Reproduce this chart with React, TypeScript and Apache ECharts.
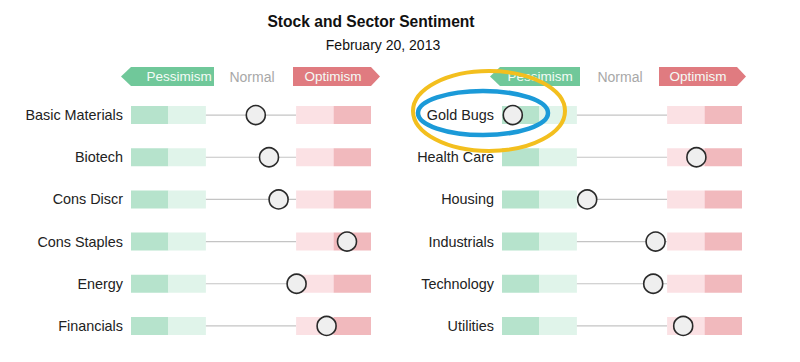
import React, { useEffect, useRef } from "react";
import * as echarts from "echarts";

const leftRows = ["Basic Materials", "Biotech", "Cons Discr", "Cons Staples", "Energy", "Financials"];
const leftValues = [52, 57.5, 61.5, 90, 69, 81.5];
const rightRows = ["Gold Bugs", "Health Care", "Housing", "Industrials", "Technology", "Utilities"];
const rightValues = [4.5, 81, 35.5, 64, 63, 75.5];
const bandEdges = [0, 15.6, 31.2, 68.8, 84.4, 100];
const bandColors = ["#b6e3cc", "#e0f4ea", "", "#fbe1e4", "#f1b9bd"];

const FONT = "'Liberation Sans', Arial, sans-serif";

function bandSeries(idx: number, rows: string[]) {
  return {
    type: "custom",
    xAxisIndex: idx,
    yAxisIndex: idx,
    silent: true,
    z: 1,
    data: rows.map((_, i) => [0, i]),
    renderItem: (params: any, api: any) => {
      const row = api.value(1);
      const y = api.coord([0, row])[1];
      const children: any[] = [];
      for (let b = 0; b < 5; b++) {
        const x0 = api.coord([bandEdges[b], row])[0];
        const x1 = api.coord([bandEdges[b + 1], row])[0];
        if (b === 2) {
          children.push({
            type: "line",
            shape: { x1: x0, y1: y, x2: x1, y2: y },
            style: { stroke: "#c4c4c4", lineWidth: 1.2 },
          });
        } else {
          children.push({
            type: "rect",
            shape: { x: x0, y: y - 9, width: x1 - x0, height: 18 },
            style: { fill: bandColors[b] },
          });
        }
      }
      return { type: "group", children };
    },
  };
}

function dotSeries(idx: number, values: number[]) {
  return {
    type: "scatter",
    xAxisIndex: idx,
    yAxisIndex: idx,
    z: 5,
    symbolSize: 19,
    itemStyle: { color: "#efefef", borderColor: "#2a2a2a", borderWidth: 1.6, opacity: 1 },
    data: values.map((v, i) => [v, i]),
  };
}

function arrowLegend(x0: number, x1: number, dir: number, tip: number, fill: string, label: string, tx: number) {
  const yT = 67, yB = 86, yM = 76.5;
  const pts =
    dir < 0
      ? [[tip, yM], [x0, yT], [x1, yT], [x1, yB], [x0, yB]]
      : [[x0, yT], [x1, yT], [tip, yM], [x1, yB], [x0, yB]];
  return [
    { type: "polygon", shape: { points: pts }, style: { fill } },
    {
      type: "text",
      x: tx,
      y: yM,
      style: { text: label, fill: "#f4fbf6", font: `13.5px ${FONT}`, align: "center", verticalAlign: "middle" },
    },
  ];
}

export default function App() {
  const ref = useRef<HTMLDivElement>(null);
  useEffect(() => {
    if (!ref.current) return;
    const chart = echarts.init(ref.current, undefined, { renderer: "svg" });
    const yAxisBase = (rows: string[], idx: number) => ({
      type: "category",
      gridIndex: idx,
      data: rows,
      inverse: true,
      axisLine: { show: false },
      axisTick: { show: false },
      splitLine: { show: false },
      axisLabel: { color: "#222", fontSize: 14.4, fontFamily: FONT, margin: 8 },
    });
    const xAxisBase = (idx: number) => ({
      type: "value",
      gridIndex: idx,
      min: 0,
      max: 100,
      show: false,
    });
    chart.setOption({
      animation: false,
      backgroundColor: "#ffffff",
      grid: [
        { left: 131, width: 240, top: 94, height: 253 },
        { left: 502, width: 240, top: 94, height: 253 },
      ],
      xAxis: [xAxisBase(0), xAxisBase(1)],
      yAxis: [yAxisBase(leftRows, 0), yAxisBase(rightRows, 1)],
      series: [bandSeries(0, leftRows), bandSeries(1, rightRows), dotSeries(0, leftValues), dotSeries(1, rightValues)],
      graphic: [
        {
          type: "text",
          x: 371,
          y: 21,
          style: { text: "Stock and Sector Sentiment", fill: "#111", font: `bold 15.6px ${FONT}`, align: "center", verticalAlign: "middle" },
        },
        {
          type: "text",
          x: 383,
          y: 45,
          style: { text: "February 20, 2013", fill: "#111", font: `14px ${FONT}`, align: "center", verticalAlign: "middle" },
        },
        ...arrowLegend(131, 214, -1, 121, "#70c89a", "Pessimism", 179),
        { type: "text", x: 252, y: 76.5, style: { text: "Normal", fill: "#a8a8a8", font: `14px ${FONT}`, align: "center", verticalAlign: "middle" } },
        ...arrowLegend(293, 371, 1, 380, "#e07b80", "Optimism", 333),
        ...arrowLegend(500, 580, -1, 490, "#70c89a", "Pessimism", 540),
        { type: "text", x: 620, y: 76.5, style: { text: "Normal", fill: "#a8a8a8", font: `14px ${FONT}`, align: "center", verticalAlign: "middle" } },
        ...arrowLegend(659, 737, 1, 746, "#e07b80", "Optimism", 698),
        {
          type: "ellipse",
          z: 100,
          shape: { cx: 489, cy: 111, rx: 76, ry: 40 },
          style: { fill: "none", stroke: "#f3bf1e", lineWidth: 4 },
        },
        {
          type: "ellipse",
          z: 101,
          shape: { cx: 483, cy: 113, rx: 65, ry: 22 },
          style: { fill: "none", stroke: "#1b9ad8", lineWidth: 4.5 },
        },
      ],
    });
    return () => chart.dispose();
  }, []);
  return <div ref={ref} style={{ position: "fixed", left: 0, top: 0, width: 800, height: 362 }} />;
}
